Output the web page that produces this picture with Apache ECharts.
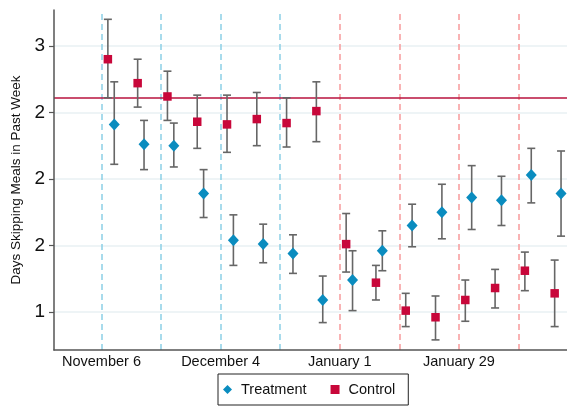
<!DOCTYPE html>
<html>
<head>
<meta charset="utf-8">
<script src="https://cdn.jsdelivr.net/npm/echarts@6/dist/echarts.min.js"></script>
<style>
html,body{margin:0;padding:0;background:#fff;}
#chart{width:567px;height:408px;}
</style>
</head>
<body>
<div id="chart"></div>
<script>
// Week start, in days after November 6
const weekDays = [0, 7, 14, 21, 28, 35, 42, 49, 56, 63, 70, 77, 84, 91, 98, 105];
const controlMean = [2.90, 2.72, 2.62, 2.43, 2.41, 2.45, 2.42, 2.51, 1.51, 1.22, 1.01, 0.96, 1.09, 1.18, 1.31, 1.14];
const controlLow  = [2.61, 2.54, 2.44, 2.23, 2.20, 2.25, 2.24, 2.28, 1.30, 1.09, 0.89, 0.79, 0.93, 1.03, 1.16, 0.89];
const controlHigh = [3.20, 2.90, 2.81, 2.63, 2.63, 2.65, 2.61, 2.73, 1.74, 1.35, 1.14, 1.12, 1.24, 1.32, 1.45, 1.39];
const treatMean = [2.41, 2.26, 2.25, 1.89, 1.54, 1.51, 1.44, 1.09, 1.24, 1.46, 1.65, 1.75, 1.86, 1.84, 2.03, 1.89];
const treatLow  = [2.11, 2.07, 2.09, 1.71, 1.35, 1.37, 1.29, 0.92, 1.01, 1.31, 1.49, 1.55, 1.62, 1.65, 1.82, 1.57];
const treatHigh = [2.73, 2.44, 2.42, 2.07, 1.73, 1.66, 1.58, 1.27, 1.46, 1.61, 1.81, 1.96, 2.10, 2.02, 2.23, 2.21];
const baselineValue = 2.61;
const yTicks = [1, 1.5, 2, 2.5, 3];
const yTickLabels = ['1', '2', '2', '2', '3'];
const xTickDays = [0, 28, 56, 84];
const xTickLabels = ['November 6', 'December 4', 'January 1', 'January 29'];
const preLineDays = [0, 14, 28, 42];
const postLineDays = [56, 70, 84, 98];
const seriesNames = ['Treatment', 'Control'];
const yAxisTitle = 'Days Skipping Meals in Past Week';

const controlOffset = 1.5, treatOffset = 3;
const RED = '#c8073a', BLUE = '#0a8cbf';
const FONT = 'Liberation Sans, Arial, sans-serif';

const controlPts = weekDays.map((d, i) => [d + controlOffset, controlMean[i]]);
const treatPts = weekDays.map((d, i) => [d + treatOffset, treatMean[i]]);
const controlBars = weekDays.map((d, i) => [d + controlOffset, controlLow[i], controlHigh[i]]);
const treatBars = weekDays.map((d, i) => [d + treatOffset, treatLow[i], treatHigh[i]]);

function errRender(params, api) {
  const x = api.value(0);
  const lo = api.coord([x, api.value(1)]);
  const hi = api.coord([x, api.value(2)]);
  const hw = 4;
  const st = {stroke: '#666', lineWidth: 1.6};
  return {
    type: 'group',
    children: [
      {type: 'line', shape: {x1: lo[0], y1: lo[1], x2: hi[0], y2: hi[1]}, style: st},
      {type: 'line', shape: {x1: lo[0] - hw, y1: lo[1], x2: lo[0] + hw, y2: lo[1]}, style: st},
      {type: 'line', shape: {x1: hi[0] - hw, y1: hi[1], x2: hi[0] + hw, y2: hi[1]}, style: st}
    ]
  };
}

const chart = echarts.init(document.getElementById('chart'), null, {renderer: 'canvas'});
chart.setOption({
  animation: false,
  backgroundColor: '#fff',
  grid: {left: 54, right: 0, top: 10, bottom: 58},
  legend: {
    data: [
      {name: seriesNames[0], icon: 'diamond'},
      {name: seriesNames[1], icon: 'rect'}
    ],
    left: 218, top: 374,
    orient: 'horizontal',
    itemWidth: 9, itemHeight: 9, itemGap: 24,
    padding: [8, 13, 8, 5],
    borderColor: '#222', borderWidth: 1,
    textStyle: {fontFamily: FONT, fontSize: 14.5, color: '#111', padding: [0, 0, 0, 4]}
  },
  xAxis: {
    type: 'value', min: -11.16, max: 109.4,
    axisLine: {show: true, onZero: false, lineStyle: {color: '#555', width: 1.5}},
    axisTick: {show: false},
    splitLine: {show: false},
    axisLabel: {
      customValues: xTickDays,
      formatter: v => xTickLabels[xTickDays.indexOf(v)] || '',
      fontFamily: FONT, fontSize: 14.5, color: '#111', margin: 4
    }
  },
  yAxis: {
    type: 'value', min: 0.714, max: 3.27,
    name: yAxisTitle, nameLocation: 'middle', nameRotate: 90, nameGap: 30,
    nameTextStyle: {fontFamily: FONT, fontSize: 13.5, color: '#111'},
    axisLine: {show: true, onZero: false, lineStyle: {color: '#555', width: 1.5}},
    axisTick: {show: true, customValues: yTicks, length: 5, lineStyle: {color: '#555', width: 1.2}},
    splitLine: {show: false},
    axisLabel: {
      customValues: yTicks,
      formatter: v => yTickLabels[yTicks.indexOf(v)] || '',
      fontFamily: FONT, fontSize: 19, color: '#111', margin: 9
    }
  },
  series: [
    {
      type: 'scatter', name: '_grid', data: [], silent: true, z: 0,
      markLine: {
        silent: true, symbol: 'none', label: {show: false}, z: 0,
        data: yTicks.map(v => ({yAxis: v, lineStyle: {color: '#e9f1f3', width: 1.5, type: 'solid'}}))
          .concat(preLineDays.map(d => ({xAxis: d, lineStyle: {color: '#8ccfe6', width: 1.5, type: [6, 4]}})))
          .concat(postLineDays.map(d => ({xAxis: d, lineStyle: {color: '#f79a9c', width: 1.5, type: [6, 4]}})))
          .concat([{yAxis: baselineValue, lineStyle: {color: '#b8123e', width: 1.5, type: 'solid'}}])
      }
    },
    {type: 'custom', name: '_ctlbars', renderItem: errRender, data: controlBars, encode: {x: 0, y: [1, 2]}, z: 2, silent: true},
    {type: 'custom', name: '_trtbars', renderItem: errRender, data: treatBars, encode: {x: 0, y: [1, 2]}, z: 2, silent: true},
    {type: 'scatter', name: seriesNames[0], data: treatPts, symbol: 'diamond', symbolSize: [11, 12],
     itemStyle: {color: BLUE, opacity: 1}, z: 3},
    {type: 'scatter', name: seriesNames[1], data: controlPts, symbol: 'rect', symbolSize: 8.5,
     itemStyle: {color: RED, opacity: 1}, z: 3}
  ]
});
</script>
</body>
</html>
